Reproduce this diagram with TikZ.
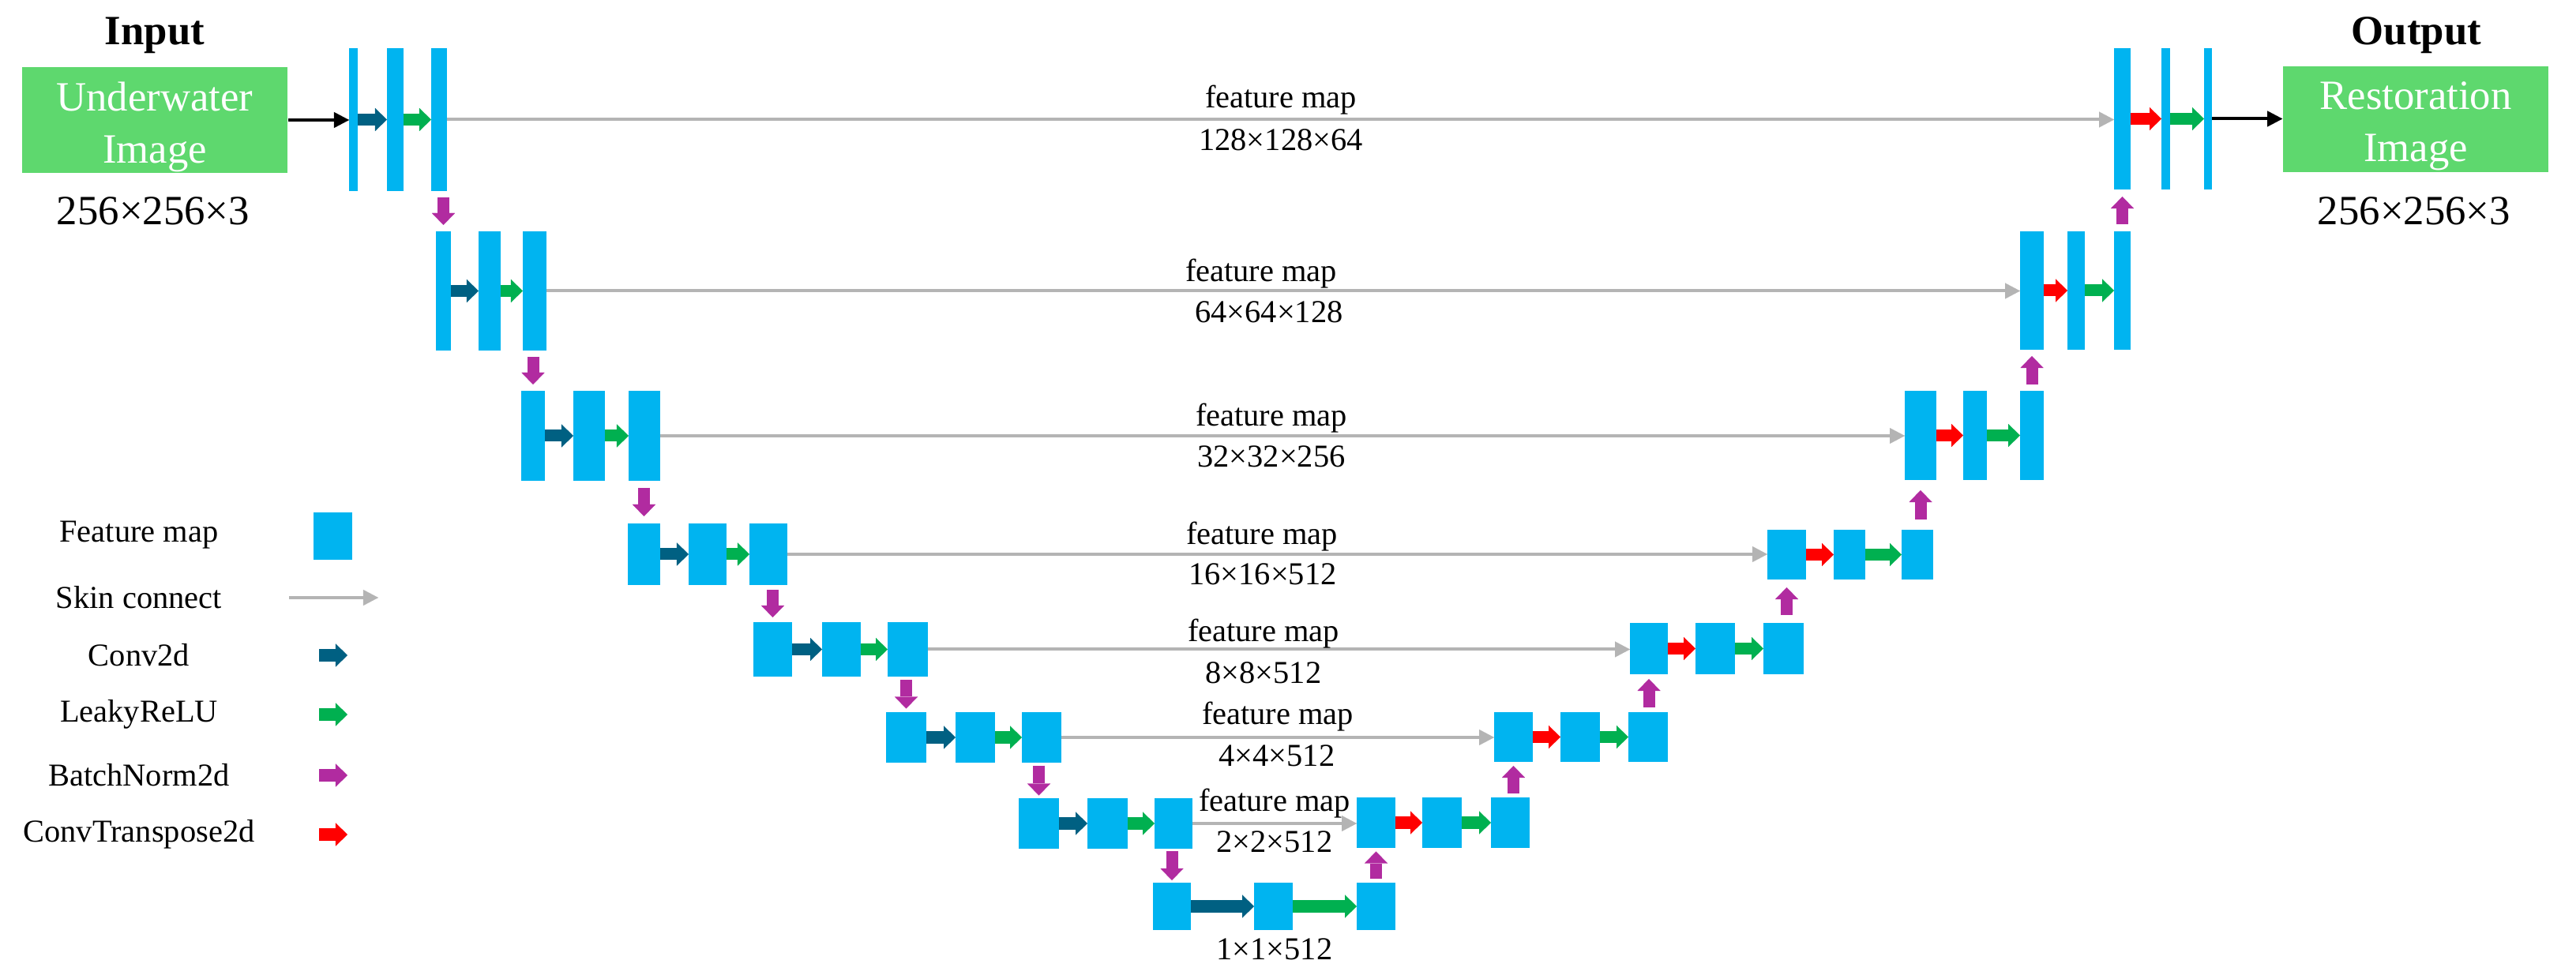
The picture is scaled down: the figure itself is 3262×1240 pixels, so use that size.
\documentclass[tikz,border=0pt]{standalone}
\usepackage{fontspec}
\setmainfont{Liberation Serif}
\usetikzlibrary{arrows.meta,calc}
\definecolor{fmblue}{RGB}{0,180,240}
\definecolor{convc}{RGB}{0,96,130}
\definecolor{lreluc}{RGB}{0,176,80}
\definecolor{bnc}{RGB}{177,43,160}
\definecolor{tconvc}{RGB}{255,0,0}
\definecolor{skipgray}{RGB}{180,180,180}
\definecolor{boxgreen}{RGB}{94,216,110}
\tikzset{
  fm/.style={rectangle,fill=fmblue,draw=none,inner sep=0pt,outer sep=0pt},
  blk/.style={line width=0.15cm,-{Triangle[width=0.29cm,length=0.15cm,line width=0.01pt]}},
  conv/.style={blk,color=convc},
  lrelu/.style={blk,color=lreluc},
  bnorm/.style={blk,color=bnc},
  tconv/.style={blk,color=tconvc},
  skiparrow/.style={line width=0.04cm,color=skipgray,-{Triangle[width=0.2cm,length=0.19cm,line width=0.01pt]}},
  ioarrow/.style={line width=0.04cm,color=black,-{Triangle[width=0.2cm,length=0.19cm,line width=0.01pt]}},
  imgbox/.style={rectangle,fill=boxgreen,draw=none,inner sep=0pt,minimum width=3.36cm,minimum height=1.33cm},
  boxtext/.style={text=white,align=center,inner sep=0pt,font=\fontsize{15}{18.8}\selectfont},
  bigtext/.style={inner sep=0pt,font=\fontsize{15}{18}\selectfont},
  titletext/.style={inner sep=0pt,font=\fontsize{15}{18}\selectfont\bfseries},
  lbl/.style={inner sep=0pt,font=\fontsize{11.5}{13}\selectfont},
}
\newcommand\fmnode[5]{\node[fm,minimum width={(#4-#2)*0.01cm},minimum height={(#5-#3)*0.01cm}] (#1) at ({(#2+#4)/2},{(#3+#5)/2}) {};}
\newcommand\hblk[3]{\draw[#1] (#2.east) -- (#2.east -| #3.west);}
\newcommand\bndown[3]{\draw[bnorm,shorten <=#3,shorten >=#3] (#1.south -| #2.north) -- (#2.north);}
\newcommand\bnup[3]{\draw[bnorm,shorten <=#3,shorten >=#3] (#1.north -| #2.south) -- (#2.south);}
\newcommand\skipc[2]{\draw[skiparrow] (#1.east) -- (#1.east -| #2.west);}
\begin{document}
\begin{tikzpicture}[x=0.01cm,y=-0.01cm]
\useasboundingbox (0,0) rectangle (3262,1240);
% input / output
\node[titletext] (tin) at (196,45) {Input};
\node[titletext] (tout) at (3060,45) {Output};
\node[imgbox] (in) at (196,152) {};
\node[boxtext,yshift=-0.09cm] (intext) at (in.center) {Underwater\\Image};
\node[imgbox] (out) at (3059,151) {};
\node[boxtext,yshift=-0.09cm] (outtext) at (out.center) {Restoration\\Image};
\node[bigtext] (insize) at (194,267) {256×256×3};
\node[bigtext] (outsize) at (3057,267) {256×256×3};
% encoder
\fmnode{e1a}{442}{61}{453}{242}\fmnode{e1b}{490}{61}{511}{242}\fmnode{e1c}{546}{61}{566}{242}
\fmnode{e2a}{552}{293}{571}{444}\fmnode{e2b}{606}{293}{634}{444}\fmnode{e2c}{662}{293}{692}{444}
\fmnode{e3a}{660}{495}{690}{609}\fmnode{e3b}{726}{495}{766}{609}\fmnode{e3c}{796}{495}{836}{609}
\fmnode{e4a}{795}{663}{836}{741}\fmnode{e4b}{872}{663}{920}{741}\fmnode{e4c}{949}{663}{997}{741}
\fmnode{e5a}{954}{788}{1003}{857}\fmnode{e5b}{1041}{788}{1090}{857}\fmnode{e5c}{1124}{788}{1175}{857}
\fmnode{e6a}{1122}{902}{1173}{966}\fmnode{e6b}{1210}{902}{1260}{966}\fmnode{e6c}{1294}{902}{1344}{966}
\fmnode{e7a}{1290}{1011}{1341}{1075}\fmnode{e7b}{1377}{1011}{1428}{1075}\fmnode{e7c}{1462}{1011}{1510}{1075}
% bottleneck
\fmnode{b1}{1460}{1118}{1508}{1178}\fmnode{b2}{1588}{1118}{1637}{1178}\fmnode{b3}{1718}{1118}{1767}{1178}
% decoder
\fmnode{d7a}{1718}{1010}{1767}{1074}\fmnode{d7b}{1801}{1010}{1851}{1074}\fmnode{d7c}{1888}{1010}{1937}{1074}
\fmnode{d6a}{1892}{902}{1941}{965}\fmnode{d6b}{1976}{902}{2026}{965}\fmnode{d6c}{2062}{902}{2112}{965}
\fmnode{d5a}{2064}{789}{2112}{854}\fmnode{d5b}{2147}{789}{2197}{854}\fmnode{d5c}{2233}{789}{2284}{854}
\fmnode{d4a}{2238}{671}{2287}{734}\fmnode{d4b}{2322}{671}{2362}{734}\fmnode{d4c}{2408}{671}{2448}{734}
\fmnode{d3a}{2412}{495}{2452}{608}\fmnode{d3b}{2486}{495}{2516}{608}\fmnode{d3c}{2558}{495}{2588}{608}
\fmnode{d2a}{2558}{293}{2588}{443}\fmnode{d2b}{2618}{293}{2640}{443}\fmnode{d2c}{2677}{293}{2698}{443}
\fmnode{d1a}{2677}{61}{2698}{240}\fmnode{d1b}{2737}{61}{2748}{240}\fmnode{d1c}{2791}{61}{2801}{240}
% skip connections
\skipc{e1c}{d1a}\skipc{e2c}{d2a}\skipc{e3c}{d3a}\skipc{e4c}{d4a}
\skipc{e5c}{d5a}\skipc{e6c}{d6a}\skipc{e7c}{d7a}
% skip labels
\node[lbl] (f1) at (1622,127) {feature map}; \node[lbl] (s1) at (1622,177) {128×128×64};
\node[lbl] (f2) at (1597,347) {feature map}; \node[lbl] (s2) at (1607,395) {64×64×128};
\node[lbl] (f3) at (1610,530) {feature map}; \node[lbl] (s3) at (1610,578) {32×32×256};
\node[lbl] (f4) at (1598,680) {feature map}; \node[lbl] (s4) at (1599,727) {16×16×512};
\node[lbl] (f5) at (1600,803) {feature map}; \node[lbl] (s5) at (1600,852) {8×8×512};
\node[lbl] (f6) at (1618,908) {feature map}; \node[lbl] (s6) at (1617,957) {4×4×512};
\node[lbl] (f7) at (1614,1018) {feature map}; \node[lbl] (s7) at (1614,1066) {2×2×512};
\node[lbl] (s8) at (1614,1202) {1×1×512};
% encoder arrows
\hblk{conv}{e1a}{e1b}\hblk{lrelu}{e1b}{e1c}
\hblk{conv}{e2a}{e2b}\hblk{lrelu}{e2b}{e2c}
\hblk{conv}{e3a}{e3b}\hblk{lrelu}{e3b}{e3c}
\hblk{conv}{e4a}{e4b}\hblk{lrelu}{e4b}{e4c}
\hblk{conv}{e5a}{e5b}\hblk{lrelu}{e5b}{e5c}
\hblk{conv}{e6a}{e6b}\hblk{lrelu}{e6b}{e6c}
\hblk{conv}{e7a}{e7b}\hblk{lrelu}{e7b}{e7c}
\hblk{conv}{b1}{b2}\hblk{lrelu}{b2}{b3}
% decoder arrows
\hblk{tconv}{d7a}{d7b}\hblk{lrelu}{d7b}{d7c}
\hblk{tconv}{d6a}{d6b}\hblk{lrelu}{d6b}{d6c}
\hblk{tconv}{d5a}{d5b}\hblk{lrelu}{d5b}{d5c}
\hblk{tconv}{d4a}{d4b}\hblk{lrelu}{d4b}{d4c}
\hblk{tconv}{d3a}{d3b}\hblk{lrelu}{d3b}{d3c}
\hblk{tconv}{d2a}{d2b}\hblk{lrelu}{d2b}{d2c}
\hblk{tconv}{d1a}{d1b}\hblk{lrelu}{d1b}{d1c}
% batchnorm arrows
\bndown{e1c}{e2a}{0.08cm}\bndown{e2c}{e3a}{0.08cm}\bndown{e3c}{e4a}{0.09cm}
\bndown{e4c}{e5a}{0.06cm}\bndown{e5c}{e6a}{0.045cm}\bndown{e6c}{e7a}{0.035cm}
\bndown{e7c}{b1}{0.03cm}
\bnup{b3}{d7a}{0.045cm}\bnup{d7c}{d6a}{0.05cm}\bnup{d6c}{d5a}{0.06cm}
\bnup{d5c}{d4a}{0.1cm}\bnup{d4c}{d3a}{0.13cm}\bnup{d3c}{d2a}{0.08cm}
\bnup{d2c}{d1a}{0.09cm}
% input / output arrows
\draw[ioarrow] (in.east) -- (in.east -| e1a.west);
\draw[ioarrow] (d1c.east) -- (d1c.east -| out.west);
% legend
\node[lbl] (l1) at (176,678) {Feature map};
\node[fm,minimum width=0.49cm,minimum height=0.6cm] (l1s) at (421.5,679) {};
\node[lbl] (l2) at (176,757) {Skin connect};
\coordinate (l2a) at (366,757); \coordinate (l2b) at (479,757);
\draw[skiparrow] (l2a) -- (l2b);
\node[lbl] (l3) at (176,830) {Conv2d};
\coordinate (l3a) at (404,830); \coordinate (l3b) at (440,830);
\draw[conv] (l3a) -- (l3b);
\node[lbl] (l4) at (176,905) {LeakyReLU};
\coordinate (l4a) at (404,905); \coordinate (l4b) at (440,905);
\draw[lrelu] (l4a) -- (l4b);
\node[lbl] (l5) at (176,982) {BatchNorm2d};
\coordinate (l5a) at (404,982); \coordinate (l5b) at (440,982);
\draw[bnorm] (l5a) -- (l5b);
\node[lbl] (l6) at (176,1057) {ConvTranspose2d};
\coordinate (l6a) at (404,1057); \coordinate (l6b) at (440,1057);
\draw[tconv] (l6a) -- (l6b);
\end{tikzpicture}
\end{document}
